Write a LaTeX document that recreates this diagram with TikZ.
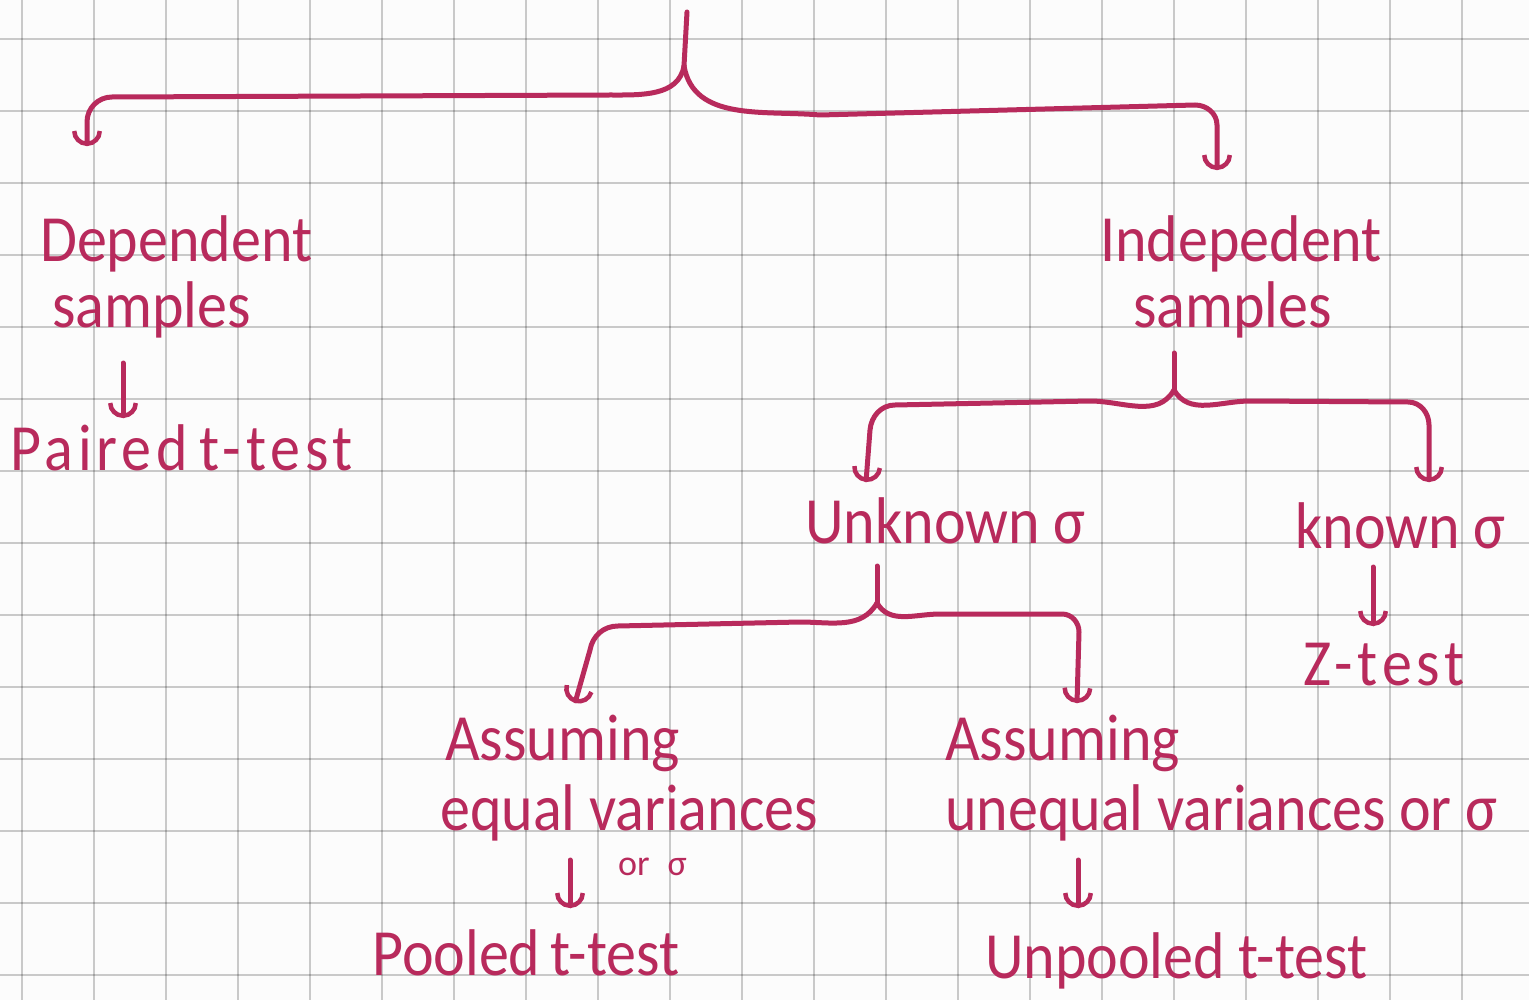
\documentclass[tikz,border=0pt]{standalone}
\usepackage{fontspec}
\setmainfont{Carlito}
\usetikzlibrary{arrows.meta}
\definecolor{ink}{RGB}{184,42,92}
\definecolor{paper}{RGB}{252,252,252}
\newcommand{\handsize}{\fontsize{60}{60}\selectfont}
\newcommand{\smallhand}{\fontsize{36}{36}\selectfont}
\tikzset{
gridline/.style={ % Sets the squared paper lines
draw=black, opacity=0.2, line width=2.5pt},
hand/.style={ % Sets the properties for each handwritten label
font=\handsize, text=ink, inner sep=0pt, anchor=base west, yscale=1.1},
wide/.style={ % Loosely written labels
font=\handsize\addfontfeature{LetterSpace=8}},
stem/.style={ % Stem above a fork, no tip
draw=ink, line width=5pt, line cap=round, line join=round},
link/.style={ % Sets the properties for each arrow
stem, -{Arc Barb[arc=180, width=30pt, length=15pt, line width=4.5pt]}}}

\begin{document}
\begin{tikzpicture}[x=1pt, y=1pt]
\fill[paper] (0,0) rectangle (1529,-1000);
\useasboundingbox (0,0) rectangle (1529,-1000);
\foreach \i in {0,...,20}
  \draw[gridline] (22+72*\i,0) -- (22+72*\i,-1000);
\foreach \j in {0,...,13}
  \draw[gridline] (0,-39-72*\j) -- (1529,-39-72*\j);

% labels
\node[hand] (dep) at (40,-262) {Dependent};
\node[hand] (depS) at (52,-328) {samples};
\node[hand, wide] (paired) at (10,-470) {Paired\hspace{12pt}t-test};
\node[hand] (indep) at (1100,-262) {Indepedent};
\node[hand] (indepS) at (1133,-328) {samples};
\node[hand] (unknown) at (805,-543) {Unknown σ};
\node[hand] (known) at (1295,-548) {known σ};
\node[hand, wide] (ztest) at (1303,-685) {Z-test};
\node[hand] (assumeA) at (445,-760) {Assuming};
\node[hand] (equalV) at (440,-830) {equal variances};
\node[hand, font=\smallhand, yscale=1/1.1] (orA) at (618,-875) {or\hspace{18pt}σ};
\node[hand] (pooled) at (372,-975) {Pooled\hspace{10pt}t-test};
\node[hand] (assumeB) at (945,-760) {Assuming};
\node[hand] (unequalV) at (945,-830) {unequal variances or σ};
\node[hand] (unpooled) at (985,-978) {Unpooled t-test};

% forks and arrow ends
\coordinate (root) at (687,-12);
\coordinate (forkA) at (684,-66);
\coordinate (depIn) at (87,-146);
\coordinate (indepIn) at (1217,-170);
\coordinate (indepOut) at (1174,-353);
\coordinate (forkB) at (1174,-390);
\coordinate (unknownIn) at (866,-482);
\coordinate (knownIn) at (1429,-482);
\coordinate (unknownOut) at (877,-566);
\coordinate (forkC) at (877,-603);
\coordinate (assumeAIn) at (575,-703);
\coordinate (assumeBIn) at (1077,-703);

\draw[stem] (root) -- (forkA);
\draw[link] (forkA) to[out=-100,in=0] (610,-95) -- (112,-97)
  to[out=180,in=90] (87,-122) -- (depIn);
\draw[link] (forkA) to[out=-80,in=175] (820,-115) -- (1195,-105)
  to[out=0,in=90] (1217,-125) -- (indepIn);
\draw[link] (123,-363) -- (123,-418);

\draw[stem] (indepOut) -- (forkB);
\draw[link] (forkB) to[out=-120,in=0] (1090,-401) -- (895,-405)
  to[out=180,in=85] (870,-430) -- (unknownIn);
\draw[link] (forkB) to[out=-60,in=180] (1250,-401) -- (1408,-402)
  to[out=0,in=90] (1429,-425) -- (knownIn);

\draw[link] (1373,-567) -- (1373,-626);

\draw[stem] (unknownOut) -- (forkC);
\draw[link] (forkC) to[out=-120,in=0] (800,-622) -- (618,-626)
  to[out=180,in=80] (590,-650) -- (assumeAIn);
\draw[link] (forkC) to[out=-60,in=180] (940,-614) -- (1062,-614)
  to[out=0,in=90] (1079,-632) -- (assumeBIn);

\draw[link] (570,-860) -- (570,-908);
\draw[link] (1078,-860) -- (1078,-908);
\end{tikzpicture}
\end{document}
